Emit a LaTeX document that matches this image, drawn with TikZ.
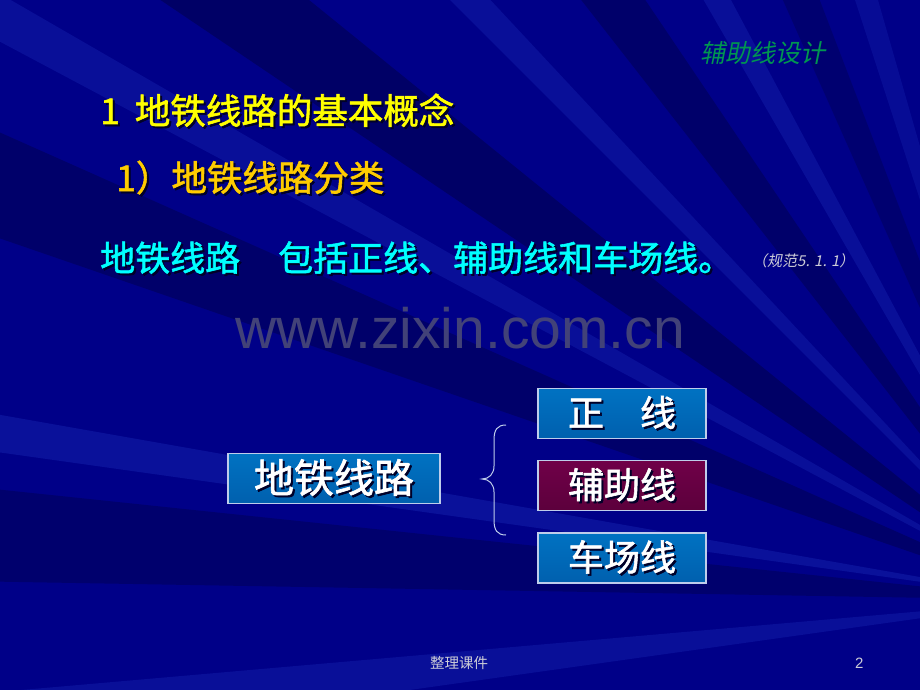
\documentclass[tikz,border=0pt]{standalone}
\usepackage{fontspec}
\usetikzlibrary{calc,positioning}
\newfontfamily\cjk[FakeBold=1.6]{Noto Sans CJK SC}
\newfontfamily\cjkr{Noto Sans CJK SC}
\newfontfamily\cjkit[FakeSlant=0.2]{Noto Sans CJK SC}
\newfontfamily\wmfont{Liberation Sans}
\definecolor{bgnavy}{RGB}{0,0,136}
\definecolor{raydark}{RGB}{0,0,70}
\definecolor{raylight}{RGB}{30,50,190}
\definecolor{titleyellow}{RGB}{255,255,0}
\definecolor{suborange}{RGB}{255,204,0}
\definecolor{linecyan}{RGB}{0,255,255}
\definecolor{headgreen}{RGB}{0,150,80}
\definecolor{textshadow}{RGB}{0,0,40}
\definecolor{watermark}{RGB}{66,66,120}
\definecolor{boxtop}{RGB}{0,114,194}
\definecolor{boxbot}{RGB}{0,96,174}
\definecolor{boxline}{RGB}{190,205,235}
\definecolor{maroontop}{RGB}{112,0,72}
\definecolor{maroonbot}{RGB}{92,0,60}
\definecolor{footgray}{RGB}{205,205,215}
\newcommand{\shadowed}[1]{\leavevmode\rlap{\kern2pt\raisebox{-2pt}{\color{textshadow}#1}}#1}

\begin{document}
\begin{tikzpicture}[x=1pt, y=-1pt,
  txt/.style={inner sep=0pt, anchor=base west, font=\cjk\fontsize{35.5}{40}\selectfont},
  box/.style={draw=boxline, line width=1.2pt, minimum height=50pt, inner sep=0pt,
    text=white, font=\cjk\fontsize{36}{40}\selectfont, top color=boxtop, bottom color=boxbot},
  small/.style={inner sep=0pt, anchor=base west}]
\useasboundingbox (0,0) rectangle (920,690);
% background with rays
\fill[bgnavy] (0,0) rectangle (920,690);
\begin{scope}
\clip (0,0) rectangle (920,690);
\coordinate (fan) at (1050,600);
\foreach \a/\b/\c/\o in {172/175/raylight/0.3, 181/186/raydark/0.4, 188/190/raylight/0.35,
    199/204/raydark/0.45, 208/210/raylight/0.3, 214/219/raydark/0.5, 225/227/raylight/0.3,
    232/236/raydark/0.45, 240/242/raylight/0.3, 246/249/raydark/0.35, 252/254/raylight/0.25}
  \fill[\c, opacity=\o] (fan) -- ($(fan)+(\a:2000)$) -- ($(fan)+(\b:2000)$) -- cycle;
\end{scope}
% watermark
\node[inner sep=0pt, text=watermark, font=\wmfont\fontsize{57}{60}\selectfont] (wm) at (460,328) {www.zixin.com.cn};
% header and text lines
\node[small, text=headgreen, font=\cjkit\fontsize{25}{28}\selectfont] (head) at (700,63) {辅助线设计};
\node[txt, text=titleyellow] (title) at (100,124) {\shadowed{1\hspace{15pt}地铁线路的基本概念}};
\node[txt, text=suborange] (sub) at (116,191) {\shadowed{1）地铁线路分类}};
\node[txt, text=linecyan, font=\cjk\fontsize{35}{40}\selectfont] (def) at (100,271) {\shadowed{地铁线路\hspace{38pt}包括正线、辅助线和车场线。}};
\node[small, text=footgray, font=\cjkit\fontsize{15}{18}\selectfont] (ref) at (752,266) {（规范5. 1. 1）};
% boxes
\node[box, minimum width=212pt, font=\cjk\fontsize{40}{44}\selectfont] (ditie) at (334,478.5) {\shadowed{地铁线路}};
\node[box, minimum width=168pt] (zheng) at (622,413.5) {\shadowed{正\hspace{1em}线}};
\node[box, minimum width=168pt, below=21pt of zheng, top color=maroontop, bottom color=maroonbot] (fuzhu) {\shadowed{辅助线}};
\node[box, minimum width=168pt, below=21pt of fuzhu] (chechang) {\shadowed{车场线}};
% brace
\coordinate (bracetip) at (482,479);
\draw[boxline, line width=1pt] (506,425) .. controls (497,425) and (494,430) .. (494,440) -- (494,466)
  .. controls (494,474) and (489,479) .. (bracetip)
  .. controls (489,479) and (494,484) .. (494,492) -- (494,520)
  .. controls (494,530) and (497,535) .. (506,535);
% footer
\node[small, text=footgray, font=\cjkr\fontsize{14.5}{16}\selectfont] (foot) at (430,668) {整理课件};
\node[small, text=footgray, font=\wmfont\fontsize{15}{16}\selectfont] (page) at (855,668) {2};
\end{tikzpicture}
\end{document}
